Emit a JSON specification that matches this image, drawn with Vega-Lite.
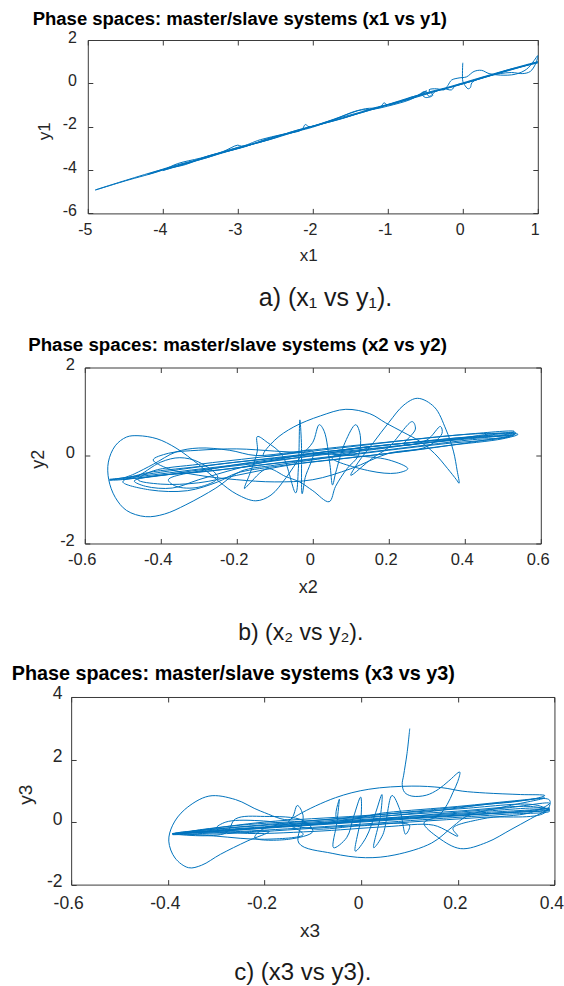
{
 "$schema": "https://vega.github.io/schema/vega-lite/v6.json",
 "padding": {"left": 10.8, "top": 9, "right": 0, "bottom": 0},
 "background": "white",
 "spacing": 153.5,
 "bounds": "flush",
 "center": true,
 "config": {
  "view": {"stroke": null},
  "axis": {"grid": false, "domainColor": "#3a3a3a", "tickColor": "#3a3a3a", "labelColor": "#262626", "titleColor": "#262626", "labelFont": "Liberation Sans", "titleFont": "Liberation Sans", "titleFontWeight": "normal", "labelFlush": false, "labelOverlap": false, "domainWidth": 1, "tickWidth": 1},
  "title": {"font": "Liberation Sans"}
 },
 "datasets": {
  "p1": [
   {"i":1,"x":0.0,"y":0.95},{"i":2,"x":0.0,"y":0.1},{"i":3,"x":0.02,"y":-0.05},{"i":4,"x":0.07,"y":-0.25},{"i":5,"x":0.1,"y":-0.2},{"i":6,"x":0.12,"y":0.02},{"i":7,"x":0.2,"y":0.2},{"i":8,"x":0.35,"y":0.35},{"i":9,"x":0.5,"y":0.45},{"i":10,"x":0.65,"y":0.5},
   {"i":11,"x":0.8,"y":0.45},{"i":12,"x":0.9,"y":0.55},{"i":13,"x":0.97,"y":0.9},{"i":14,"x":1.0,"y":1.28},{"i":15,"x":0.95,"y":1.05},{"i":16,"x":0.85,"y":0.65},{"i":17,"x":0.7,"y":0.42},{"i":18,"x":0.5,"y":0.38},{"i":19,"x":0.35,"y":0.45},{"i":20,"x":0.25,"y":0.6},
   {"i":21,"x":0.15,"y":0.55},{"i":22,"x":0.05,"y":0.3},{"i":23,"x":-0.05,"y":0.25},{"i":24,"x":-0.15,"y":0.15},{"i":25,"x":-0.2,"y":-0.1},{"i":26,"x":-0.25,"y":-0.3},{"i":27,"x":-0.35,"y":-0.25},{"i":28,"x":-0.45,"y":-0.3},{"i":29,"x":-0.4,"y":-0.55},{"i":30,"x":-0.5,"y":-0.65},
   {"i":31,"x":-0.55,"y":-0.45},{"i":32,"x":-0.48,"y":-0.35},{"i":33,"x":-0.6,"y":-0.55},{"i":34,"x":-0.7,"y":-0.65},{"i":35,"x":-0.8,"y":-0.8},{"i":36,"x":-1.0,"y":-1.0},{"i":37,"x":-1.05,"y":-0.9},{"i":38,"x":-1.1,"y":-1.1},{"i":39,"x":-1.3,"y":-1.17},{"i":40,"x":-1.5,"y":-1.38},
   {"i":41,"x":-1.8,"y":-1.75},{"i":42,"x":-2.05,"y":-2.0},{"i":43,"x":-2.1,"y":-1.9},{"i":44,"x":-2.15,"y":-2.15},{"i":45,"x":-2.4,"y":-2.35},{"i":46,"x":-2.7,"y":-2.6},{"i":47,"x":-2.95,"y":-2.9},{"i":48,"x":-3.0,"y":-2.85},{"i":49,"x":-3.2,"y":-3.15},{"i":50,"x":-3.5,"y":-3.45},
   {"i":51,"x":-3.8,"y":-3.7},{"i":52,"x":-4.0,"y":-4.0},{"i":53,"x":-4.5,"y":-4.5},{"i":54,"x":-4.9,"y":-4.92},{"i":55,"x":-4.5,"y":-4.48},{"i":56,"x":-4.0,"y":-3.97},{"i":57,"x":-3.7,"y":-3.75},{"i":58,"x":-3.4,"y":-3.35},{"i":59,"x":-3.1,"y":-3.1},{"i":60,"x":-2.8,"y":-2.8},
   {"i":61,"x":-2.5,"y":-2.45},{"i":62,"x":-2.2,"y":-2.2},{"i":63,"x":-2.0,"y":-2.02},{"i":64,"x":-1.7,"y":-1.65},{"i":65,"x":-1.4,"y":-1.25},{"i":66,"x":-1.2,"y":-1.2},{"i":67,"x":-1.0,"y":-1.05},{"i":68,"x":-0.7,"y":-0.75},{"i":69,"x":-0.5,"y":-0.4},{"i":70,"x":-0.45,"y":-0.6},
   {"i":71,"x":-0.35,"y":-0.35},{"i":72,"x":-0.25,"y":-0.25},{"i":73,"x":-0.15,"y":-0.3},{"i":74,"x":-0.1,"y":-0.1},{"i":75,"x":0.0,"y":0.0},{"i":76,"x":0.3,"y":0.3},{"i":77,"x":0.6,"y":0.6},{"i":78,"x":1.0,"y":0.95},{"i":79,"x":0.6,"y":0.62},{"i":80,"x":0.2,"y":0.18},
   {"i":81,"x":-0.3,"y":-0.3},{"i":82,"x":-0.6,"y":-0.62},{"i":83,"x":-1.0,"y":-1.0},{"i":84,"x":-1.5,"y":-1.5},{"i":85,"x":-2.0,"y":-1.98},{"i":86,"x":-2.5,"y":-2.52},{"i":87,"x":-3.0,"y":-3.0},{"i":88,"x":-3.5,"y":-3.52},{"i":89,"x":-4.0,"y":-4.02},{"i":90,"x":-3.6,"y":-3.6},
   {"i":91,"x":-3.3,"y":-3.28},{"i":92,"x":-2.9,"y":-2.92},{"i":93,"x":-2.6,"y":-2.55},{"i":94,"x":-2.3,"y":-2.3},{"i":95,"x":-2.1,"y":-2.08},{"i":96,"x":-1.6,"y":-1.55},{"i":97,"x":-1.1,"y":-1.08},{"i":98,"x":-0.6,"y":-0.55},{"i":99,"x":-0.2,"y":-0.22},{"i":100,"x":0.3,"y":0.28},
   {"i":101,"x":0.9,"y":0.88},{"i":102,"x":1.0,"y":1.0},{"i":103,"x":0.7,"y":0.72},{"i":104,"x":0.3,"y":0.33},{"i":105,"x":-0.2,"y":-0.18},{"i":106,"x":-0.5,"y":-0.45},{"i":107,"x":-0.7,"y":-0.72},{"i":108,"x":-1.2,"y":-1.15},{"i":109,"x":-1.6,"y":-1.62},{"i":110,"x":-2.2,"y":-2.15},
   {"i":111,"x":-2.6,"y":-2.62},{"i":112,"x":-3.0,"y":-2.95},{"i":113,"x":-3.4,"y":-3.42},{"i":114,"x":-3.8,"y":-3.78},{"i":115,"x":-4.2,"y":-4.2},{"i":116,"x":-3.9,"y":-3.85},{"i":117,"x":-3.5,"y":-3.48},{"i":118,"x":-3.1,"y":-3.05},{"i":119,"x":-2.7,"y":-2.72},{"i":120,"x":-2.3,"y":-2.25},
   {"i":121,"x":-1.9,"y":-1.9},{"i":122,"x":-1.3,"y":-1.3},{"i":123,"x":-0.8,"y":-0.78},{"i":124,"x":-0.4,"y":-0.4},{"i":125,"x":0.0,"y":-0.02},{"i":126,"x":0.5,"y":0.5},{"i":127,"x":1.0,"y":0.98}
  ],
  "p2": [
   {"i":1,"x":-0.535,"y":-0.54},{"i":2,"x":-0.45,"y":-0.47},{"i":3,"x":-0.3,"y":-0.31},{"i":4,"x":-0.15,"y":-0.16},{"i":5,"x":0.0,"y":-0.01},{"i":6,"x":0.15,"y":0.14},{"i":7,"x":0.3,"y":0.29},{"i":8,"x":0.42,"y":0.41},{"i":9,"x":0.534,"y":0.52},{"i":10,"x":0.52,"y":0.43},
   {"i":11,"x":0.42,"y":0.36},{"i":12,"x":0.3,"y":0.24},{"i":13,"x":0.15,"y":0.08},{"i":14,"x":0.0,"y":-0.07},{"i":15,"x":-0.15,"y":-0.23},{"i":16,"x":-0.3,"y":-0.38},{"i":17,"x":-0.42,"y":-0.47},{"i":18,"x":-0.47,"y":-0.58},{"i":19,"x":-0.44,"y":-0.7},{"i":20,"x":-0.37,"y":-0.74},
   {"i":21,"x":-0.3,"y":-0.55},{"i":22,"x":-0.2,"y":-0.3},{"i":23,"x":-0.1,"y":-0.1},{"i":24,"x":0.0,"y":0.05},{"i":25,"x":0.1,"y":0.15},{"i":26,"x":0.15,"y":0.2},{"i":27,"x":0.1,"y":0.05},{"i":28,"x":0.0,"y":-0.1},{"i":29,"x":-0.1,"y":-0.22},{"i":30,"x":-0.19,"y":-0.36},
   {"i":31,"x":-0.255,"y":-0.74},{"i":32,"x":-0.334,"y":-1.12},{"i":33,"x":-0.39,"y":-1.33},{"i":34,"x":-0.44,"y":-1.39},{"i":35,"x":-0.49,"y":-1.25},{"i":36,"x":-0.52,"y":-0.95},{"i":37,"x":-0.537,"y":-0.55},{"i":38,"x":-0.538,"y":-0.15},{"i":39,"x":-0.52,"y":0.22},{"i":40,"x":-0.49,"y":0.42},
   {"i":41,"x":-0.46,"y":0.45},{"i":42,"x":-0.41,"y":0.38},{"i":43,"x":-0.36,"y":0.17},{"i":44,"x":-0.3,"y":-0.21},{"i":45,"x":-0.247,"y":-0.59},{"i":46,"x":-0.2,"y":-0.88},{"i":47,"x":-0.15,"y":-1.03},{"i":48,"x":-0.11,"y":-0.9},{"i":49,"x":-0.07,"y":-0.5},{"i":50,"x":-0.03,"y":0.0},
   {"i":51,"x":0.0,"y":0.3},{"i":52,"x":0.017,"y":0.7},{"i":53,"x":0.03,"y":0.55},{"i":54,"x":0.045,"y":-0.2},{"i":55,"x":0.052,"y":-0.67},{"i":56,"x":0.06,"y":-0.4},{"i":57,"x":0.085,"y":0.3},{"i":58,"x":0.113,"y":0.7},{"i":59,"x":0.125,"y":0.45},{"i":60,"x":0.12,"y":0.0},
   {"i":61,"x":0.09,"y":-0.3},{"i":62,"x":0.06,"y":-0.7},{"i":63,"x":0.043,"y":-1.05},{"i":64,"x":0.0,"y":-0.8},{"i":65,"x":-0.035,"y":-0.6},{"i":66,"x":-0.071,"y":-0.48},{"i":67,"x":-0.12,"y":-0.3},{"i":68,"x":-0.17,"y":-0.67},{"i":69,"x":-0.18,"y":-0.75},{"i":70,"x":-0.165,"y":-0.4},
   {"i":71,"x":-0.146,"y":0.1},{"i":72,"x":-0.146,"y":0.43},{"i":73,"x":-0.12,"y":0.3},{"i":74,"x":-0.08,"y":0.0},{"i":75,"x":-0.045,"y":-0.85},{"i":76,"x":-0.038,"y":-0.3},{"i":77,"x":-0.034,"y":0.81},{"i":78,"x":-0.03,"y":0.3},{"i":79,"x":-0.028,"y":-0.87},{"i":80,"x":-0.02,"y":-0.5},
   {"i":81,"x":0.0,"y":0.1},{"i":82,"x":-0.06,"y":0.05},{"i":83,"x":-0.13,"y":0.0},{"i":84,"x":-0.1,"y":0.35},{"i":85,"x":-0.05,"y":0.65},{"i":86,"x":0.02,"y":0.9},{"i":87,"x":0.087,"y":1.05},{"i":88,"x":0.15,"y":0.95},{"i":89,"x":0.192,"y":0.74},{"i":90,"x":0.24,"y":0.52},
   {"i":91,"x":0.28,"y":0.33},{"i":92,"x":0.32,"y":0.05},{"i":93,"x":0.355,"y":-0.3},{"i":94,"x":0.378,"y":-0.55},{"i":95,"x":0.385,"y":-0.63},{"i":96,"x":0.38,"y":-0.35},{"i":97,"x":0.37,"y":0.1},{"i":98,"x":0.35,"y":0.6},{"i":99,"x":0.32,"y":1.1},{"i":100,"x":0.276,"y":1.3},
   {"i":101,"x":0.24,"y":1.15},{"i":102,"x":0.2,"y":0.75},{"i":103,"x":0.16,"y":0.3},{"i":104,"x":0.12,"y":-0.15},{"i":105,"x":0.1,"y":-0.45},{"i":106,"x":0.157,"y":-0.06},{"i":107,"x":0.2,"y":0.19},{"i":108,"x":0.262,"y":0.77},{"i":109,"x":0.27,"y":0.6},{"i":110,"x":0.24,"y":0.25},
   {"i":111,"x":0.3,"y":0.35},{"i":112,"x":0.336,"y":0.66},{"i":113,"x":0.34,"y":0.5},{"i":114,"x":0.3,"y":0.2},{"i":115,"x":0.2,"y":0.05},{"i":116,"x":0.1,"y":-0.3},{"i":117,"x":0.0,"y":-0.55},{"i":118,"x":-0.1,"y":-0.6},{"i":119,"x":-0.2,"y":-0.55},{"i":120,"x":-0.3,"y":-0.45},
   {"i":121,"x":-0.38,"y":-0.3},{"i":122,"x":-0.42,"y":-0.1},{"i":123,"x":-0.38,"y":0.05},{"i":124,"x":-0.3,"y":0.12},{"i":125,"x":-0.2,"y":0.15},{"i":126,"x":-0.1,"y":0.1},{"i":127,"x":0.0,"y":0.05},{"i":128,"x":0.1,"y":0.0},{"i":129,"x":0.2,"y":-0.1},{"i":130,"x":0.25,"y":-0.3},
   {"i":131,"x":0.22,"y":-0.4},{"i":132,"x":0.15,"y":-0.35},{"i":133,"x":0.05,"y":-0.05},{"i":134,"x":0.2,"y":0.18},{"i":135,"x":0.35,"y":0.34},{"i":136,"x":0.48,"y":0.5},{"i":137,"x":0.534,"y":0.5},{"i":138,"x":0.5,"y":0.4},{"i":139,"x":0.35,"y":0.27},{"i":140,"x":0.2,"y":0.12},
   {"i":141,"x":0.05,"y":-0.04},{"i":142,"x":-0.1,"y":-0.18},{"i":143,"x":-0.25,"y":-0.33},{"i":144,"x":-0.4,"y":-0.45},{"i":145,"x":-0.5,"y":-0.53},{"i":146,"x":-0.47,"y":-0.42},{"i":147,"x":-0.42,"y":-0.2},{"i":148,"x":-0.36,"y":0.08},{"i":149,"x":-0.3,"y":0.17},{"i":150,"x":-0.22,"y":0.12},
   {"i":151,"x":-0.15,"y":0.0},{"i":152,"x":-0.05,"y":0.08},{"i":153,"x":0.1,"y":0.22},{"i":154,"x":0.25,"y":0.35},{"i":155,"x":0.4,"y":0.48},{"i":156,"x":0.53,"y":0.55},{"i":157,"x":0.5,"y":0.46},{"i":158,"x":0.38,"y":0.4},{"i":159,"x":0.22,"y":0.26},{"i":160,"x":0.05,"y":0.1},
   {"i":161,"x":-0.1,"y":-0.08},{"i":162,"x":-0.25,"y":-0.28},{"i":163,"x":-0.38,"y":-0.55},{"i":164,"x":-0.36,"y":-0.7},{"i":165,"x":-0.3,"y":-0.72},{"i":166,"x":-0.25,"y":-0.5},{"i":167,"x":-0.3,"y":-0.15},{"i":168,"x":-0.35,"y":-0.05},{"i":169,"x":-0.4,"y":-0.15},{"i":170,"x":-0.47,"y":-0.5},
   {"i":171,"x":-0.535,"y":-0.56},{"i":172,"x":-0.4,"y":-0.38},{"i":173,"x":-0.2,"y":-0.15},{"i":174,"x":0.0,"y":0.02},{"i":175,"x":0.2,"y":0.2},{"i":176,"x":0.4,"y":0.37},{"i":177,"x":0.53,"y":0.47},{"i":178,"x":0.45,"y":0.45},{"i":179,"x":0.3,"y":0.33},{"i":180,"x":0.1,"y":0.15},
   {"i":181,"x":-0.1,"y":-0.05},{"i":182,"x":-0.3,"y":-0.25},{"i":183,"x":-0.45,"y":-0.42},{"i":184,"x":-0.5,"y":-0.6},{"i":185,"x":-0.43,"y":-0.78},{"i":186,"x":-0.33,"y":-0.8},{"i":187,"x":-0.25,"y":-0.6},{"i":188,"x":-0.2,"y":-0.4},{"i":189,"x":-0.1,"y":-0.25},{"i":190,"x":0.05,"y":-0.1},
   {"i":191,"x":0.2,"y":0.05},{"i":192,"x":0.35,"y":0.22},{"i":193,"x":0.5,"y":0.38},{"i":194,"x":0.54,"y":0.48},{"i":195,"x":0.45,"y":0.5},{"i":196,"x":0.3,"y":0.4},{"i":197,"x":0.15,"y":0.25},{"i":198,"x":0.0,"y":0.1},{"i":199,"x":-0.15,"y":-0.05},{"i":200,"x":-0.3,"y":-0.2},
   {"i":201,"x":-0.42,"y":-0.35},{"i":202,"x":-0.46,"y":-0.55},{"i":203,"x":-0.4,"y":-0.65},{"i":204,"x":-0.3,"y":-0.62},{"i":205,"x":-0.2,"y":-0.45},{"i":206,"x":-0.05,"y":-0.2},{"i":207,"x":0.1,"y":-0.05},{"i":208,"x":0.25,"y":0.1},{"i":209,"x":0.4,"y":0.28},{"i":210,"x":0.52,"y":0.45},
   {"i":211,"x":0.45,"y":0.42},{"i":212,"x":0.3,"y":0.32},{"i":213,"x":0.15,"y":0.2},{"i":214,"x":0.0,"y":0.0},{"i":215,"x":-0.15,"y":-0.18},{"i":216,"x":-0.3,"y":-0.33},{"i":217,"x":-0.44,"y":-0.5},{"i":218,"x":-0.535,"y":-0.55}
  ],
  "p3": [
   {"i":1,"x":0.1006,"y":2.99},{"i":2,"x":0.095,"y":2.2},{"i":3,"x":0.088,"y":1.5},{"i":4,"x":0.085,"y":1.2},{"i":5,"x":0.09,"y":0.95},{"i":6,"x":0.105,"y":0.83},{"i":7,"x":0.135,"y":0.86},{"i":8,"x":0.16,"y":1.05},{"i":9,"x":0.181,"y":1.31},{"i":10,"x":0.204,"y":1.6},
   {"i":11,"x":0.2,"y":1.3},{"i":12,"x":0.19,"y":0.95},{"i":13,"x":0.178,"y":0.56},{"i":14,"x":0.16,"y":0.2},{"i":15,"x":0.13,"y":-0.03},{"i":16,"x":0.16,"y":-0.5},{"i":17,"x":0.206,"y":-0.85},{"i":18,"x":0.26,"y":-0.65},{"i":19,"x":0.31,"y":-0.24},{"i":20,"x":0.35,"y":0.1},
   {"i":21,"x":0.39,"y":0.45},{"i":22,"x":0.37,"y":0.4},{"i":23,"x":0.25,"y":0.25},{"i":24,"x":0.1,"y":0.1},{"i":25,"x":-0.05,"y":-0.05},{"i":26,"x":-0.2,"y":-0.2},{"i":27,"x":-0.33,"y":-0.33},{"i":28,"x":-0.391,"y":-0.37},{"i":29,"x":-0.3,"y":-0.3},{"i":30,"x":-0.15,"y":-0.13},
   {"i":31,"x":0.0,"y":0.02},{"i":32,"x":0.15,"y":0.17},{"i":33,"x":0.3,"y":0.3},{"i":34,"x":0.39,"y":0.38},{"i":35,"x":0.35,"y":0.5},{"i":36,"x":0.2,"y":0.35},{"i":37,"x":0.05,"y":0.2},{"i":38,"x":-0.1,"y":0.05},{"i":39,"x":-0.25,"y":-0.1},{"i":40,"x":-0.35,"y":-0.3},
   {"i":41,"x":-0.25,"y":-0.32},{"i":42,"x":-0.19,"y":-0.3},{"i":43,"x":-0.236,"y":-0.61},{"i":44,"x":-0.291,"y":-1.03},{"i":45,"x":-0.33,"y":-1.38},{"i":46,"x":-0.357,"y":-1.46},{"i":47,"x":-0.385,"y":-1.15},{"i":48,"x":-0.398,"y":-0.61},{"i":49,"x":-0.39,"y":-0.1},{"i":50,"x":-0.365,"y":0.4},
   {"i":51,"x":-0.315,"y":0.83},{"i":52,"x":-0.26,"y":0.72},{"i":53,"x":-0.208,"y":0.35},{"i":54,"x":-0.146,"y":0.09},{"i":55,"x":-0.132,"y":0.53},{"i":56,"x":-0.12,"y":0.2},{"i":57,"x":-0.129,"y":-0.67},{"i":58,"x":-0.06,"y":-1.0},{"i":59,"x":0.009,"y":-1.14},{"i":60,"x":0.07,"y":-1.05},
   {"i":61,"x":0.146,"y":-0.67},{"i":62,"x":0.19,"y":-0.14},{"i":63,"x":0.22,"y":0.2},{"i":64,"x":0.3,"y":0.5},{"i":65,"x":0.38,"y":0.77},{"i":66,"x":0.33,"y":0.7},{"i":67,"x":0.2,"y":0.5},{"i":68,"x":0.05,"y":0.3},{"i":69,"x":-0.05,"y":0.1},{"i":70,"x":-0.045,"y":0.73},
   {"i":71,"x":-0.05,"y":0.0},{"i":72,"x":-0.057,"y":-0.82},{"i":73,"x":-0.03,"y":-0.5},{"i":74,"x":-0.015,"y":0.2},{"i":75,"x":-0.001,"y":0.8},{"i":76,"x":0.0,"y":0.2},{"i":77,"x":-0.012,"y":-0.93},{"i":78,"x":0.01,"y":-0.5},{"i":79,"x":0.03,"y":0.3},{"i":80,"x":0.043,"y":0.88},
   {"i":81,"x":0.04,"y":0.2},{"i":82,"x":0.026,"y":-0.82},{"i":83,"x":0.045,"y":-0.4},{"i":84,"x":0.064,"y":0.85},{"i":85,"x":0.08,"y":0.4},{"i":86,"x":0.092,"y":-0.39},{"i":87,"x":0.1,"y":-0.1},{"i":88,"x":0.0,"y":-0.12},{"i":89,"x":-0.1,"y":-0.22},{"i":90,"x":-0.15,"y":0.0},
   {"i":91,"x":-0.129,"y":0.24},{"i":92,"x":-0.053,"y":0.78},{"i":93,"x":0.016,"y":1.05},{"i":94,"x":0.105,"y":1.15},{"i":95,"x":0.167,"y":1.1},{"i":96,"x":0.209,"y":0.99},{"i":97,"x":0.257,"y":0.93},{"i":98,"x":0.33,"y":0.88},{"i":99,"x":0.38,"y":0.85},{"i":100,"x":0.36,"y":0.75},
   {"i":101,"x":0.25,"y":0.55},{"i":102,"x":0.15,"y":0.35},{"i":103,"x":0.0,"y":0.12},{"i":104,"x":-0.15,"y":-0.05},{"i":105,"x":-0.28,"y":-0.2},{"i":106,"x":-0.37,"y":-0.35},{"i":107,"x":-0.3,"y":-0.45},{"i":108,"x":-0.2,"y":-0.55},{"i":109,"x":-0.12,"y":-0.4},{"i":110,"x":-0.15,"y":-0.1},
   {"i":111,"x":-0.22,"y":0.05},{"i":112,"x":-0.28,"y":0.0},{"i":113,"x":-0.3,"y":-0.2},{"i":114,"x":-0.25,"y":-0.35},{"i":115,"x":-0.1,"y":-0.3},{"i":116,"x":0.05,"y":-0.15},{"i":117,"x":0.15,"y":-0.1},{"i":118,"x":0.2,"y":-0.45},{"i":119,"x":0.19,"y":-0.2},{"i":120,"x":0.25,"y":0.1},
   {"i":121,"x":0.35,"y":0.3},{"i":122,"x":0.39,"y":0.6},{"i":123,"x":0.3,"y":0.45},{"i":124,"x":0.15,"y":0.25},{"i":125,"x":0.0,"y":0.05},{"i":126,"x":-0.15,"y":-0.12},{"i":127,"x":-0.3,"y":-0.28},{"i":128,"x":-0.39,"y":-0.38},{"i":129,"x":-0.25,"y":-0.22},{"i":130,"x":-0.1,"y":-0.08},
   {"i":131,"x":0.05,"y":0.08},{"i":132,"x":0.2,"y":0.22},{"i":133,"x":0.39,"y":0.4},{"i":134,"x":0.37,"y":0.45},{"i":135,"x":0.2,"y":0.28},{"i":136,"x":0.0,"y":0.08},{"i":137,"x":-0.2,"y":-0.15},{"i":138,"x":-0.35,"y":-0.32},{"i":139,"x":-0.39,"y":-0.4},{"i":140,"x":-0.25,"y":-0.3},
   {"i":141,"x":-0.05,"y":-0.12},{"i":142,"x":0.15,"y":0.1},{"i":143,"x":0.3,"y":0.25},{"i":144,"x":0.39,"y":0.35},{"i":145,"x":0.36,"y":0.55},{"i":146,"x":0.2,"y":0.42},{"i":147,"x":0.0,"y":0.2},{"i":148,"x":-0.2,"y":0.0},{"i":149,"x":-0.33,"y":-0.25},{"i":150,"x":-0.385,"y":-0.36},
   {"i":151,"x":-0.3,"y":-0.38},{"i":152,"x":-0.1,"y":-0.2},{"i":153,"x":0.1,"y":0.0},{"i":154,"x":0.25,"y":0.15},{"i":155,"x":0.38,"y":0.3},{"i":156,"x":0.39,"y":0.7},{"i":157,"x":0.3,"y":0.62},{"i":158,"x":0.15,"y":0.4},{"i":159,"x":0.0,"y":0.18},{"i":160,"x":-0.15,"y":-0.02},
   {"i":161,"x":-0.3,"y":-0.22},{"i":162,"x":-0.39,"y":-0.37},{"i":163,"x":-0.28,"y":-0.35},{"i":164,"x":-0.26,"y":0.1},{"i":165,"x":-0.2,"y":0.18},{"i":166,"x":-0.12,"y":0.05},{"i":167,"x":-0.1,"y":-0.3},{"i":168,"x":-0.15,"y":-0.55},{"i":169,"x":-0.22,"y":-0.5},{"i":170,"x":-0.2,"y":-0.2},
   {"i":171,"x":-0.05,"y":0.0},{"i":172,"x":0.1,"y":0.15},{"i":173,"x":0.25,"y":0.3},{"i":174,"x":0.39,"y":0.42}
  ]
 },
 "vconcat": [
  {
   "width": 450, "height": 173.4,
   "data": {"name": "p1"},
   "title": {"text": "a) (x₁ vs y₁).", "orient": "bottom", "anchor": "middle", "frame": "group", "dx": 12.7, "offset": 22, "fontSize": 25, "fontWeight": "normal", "color": "#1a1a1a", "font": "Liberation Sans"},
   "layer": [
    {"mark": {"type": "line", "color": "#0072BD", "strokeWidth": 1, "interpolate": "catmull-rom"},
     "encoding": {
      "x": {"field": "x", "type": "quantitative", "scale": {"domain": [-5, 1], "nice": false, "zero": false},
            "axis": {"orient": "bottom", "values": [-5,-4,-3,-2,-1,0,1], "format": "~g", "title": "x1", "tickSize": -5, "labelPadding": 12.8, "labelFontSize": 16, "labelOffset": -3, "titleFontSize": 17, "titleX": 220.5, "titleY": 42.3, "titleBaseline": "middle", "titleAlign": "center", "labelExpr": "replace(datum.label, '\u2212', '-')"}},
      "y": {"field": "y", "type": "quantitative", "scale": {"domain": [-6, 2], "nice": false, "zero": false},
            "axis": {"orient": "left", "values": [-6,-4,-2,0,2], "format": "~g", "title": "y1", "tickSize": -5, "labelPadding": 16.3, "labelFontSize": 16, "labelOffset": -3, "titleFontSize": 17, "titleX": -43.3, "titleY": 90.7, "titleAngle": -90, "titleBaseline": "middle", "titleAlign": "center", "labelExpr": "replace(datum.label, '\u2212', '-')"}},
      "order": {"field": "i"}
     }},
    {"mark": {"type": "point", "opacity": 0},
     "encoding": {
      "x": {"field": "x", "type": "quantitative", "axis": {"orient": "top", "values": [-5,-4,-3,-2,-1,0,1], "labels": false, "tickSize": -5, "title": "Phase spaces: master/slave systems (x1 vs y1)", "titleFontSize": 18.5, "titleFontWeight": "bold", "titleColor": "#000000", "titleX": -55.6, "titleY": -15.3, "titleAlign": "left", "titleBaseline": "alphabetic", "titleAngle": 0}},
      "y": {"field": "y", "type": "quantitative", "axis": {"orient": "right", "values": [-6,-4,-2,0,2], "labels": false, "tickSize": -5, "title": null}}
     }}
   ],
   "resolve": {"axis": {"x": "independent", "y": "independent"}}
  },
  {
   "width": 456, "height": 176,
   "data": {"name": "p2"},
   "title": {"text": "b) (x₂ vs y₂).", "orient": "bottom", "anchor": "middle", "frame": "group", "dx": -12, "offset": 25, "fontSize": 23, "fontWeight": "normal", "color": "#1a1a1a", "font": "Liberation Sans"},
   "layer": [
    {"mark": {"type": "line", "color": "#0072BD", "strokeWidth": 1, "interpolate": "catmull-rom"},
     "encoding": {
      "x": {"field": "x", "type": "quantitative", "scale": {"domain": [-0.6, 0.6], "nice": false, "zero": false},
            "axis": {"orient": "bottom", "values": [-0.6,-0.4,-0.2,0,0.2,0.4,0.6], "format": "~g", "title": "x2", "tickSize": -5, "labelPadding": 13.4, "labelFontSize": 16.5, "labelOffset": -3, "titleFontSize": 18, "titleX": 223, "titleY": 44.3, "titleBaseline": "middle", "titleAlign": "center", "labelExpr": "replace(datum.label, '\u2212', '-')"}},
      "y": {"field": "y", "type": "quantitative", "scale": {"domain": [-2, 2], "nice": false, "zero": false},
            "axis": {"orient": "left", "values": [-2,0,2], "format": "~g", "title": "y2", "tickSize": -5, "labelPadding": 15.5, "labelFontSize": 16.5, "labelOffset": -3, "titleFontSize": 18, "titleX": -46.4, "titleY": 91.3, "titleAngle": -90, "titleBaseline": "middle", "titleAlign": "center", "labelExpr": "replace(datum.label, '\u2212', '-')"}},
      "order": {"field": "i"}
     }},
    {"mark": {"type": "point", "opacity": 0},
     "encoding": {
      "x": {"field": "x", "type": "quantitative", "axis": {"orient": "top", "values": [-0.6,-0.4,-0.2,0,0.2,0.4,0.6], "labels": false, "tickSize": -5, "title": "Phase spaces: master/slave systems (x2 vs y2)", "titleFontSize": 18.7, "titleFontWeight": "bold", "titleColor": "#000000", "titleX": -57.1, "titleY": -16.7, "titleAlign": "left", "titleBaseline": "alphabetic", "titleAngle": 0}},
      "y": {"field": "y", "type": "quantitative", "axis": {"orient": "right", "values": [-2,0,2], "labels": false, "tickSize": -5, "title": null}}
     }}
   ],
   "resolve": {"axis": {"x": "independent", "y": "independent"}}
  },
  {
   "width": 483.3, "height": 187.6,
   "data": {"name": "p3"},
   "title": {"text": "c) (x3 vs y3).", "orient": "bottom", "anchor": "middle", "frame": "group", "dx": -10, "offset": 21, "fontSize": 24, "fontWeight": "normal", "color": "#1a1a1a", "font": "Liberation Sans"},
   "layer": [
    {"mark": {"type": "line", "color": "#0072BD", "strokeWidth": 1, "interpolate": "catmull-rom"},
     "encoding": {
      "x": {"field": "x", "type": "quantitative", "scale": {"domain": [-0.6, 0.4], "nice": false, "zero": false},
            "axis": {"orient": "bottom", "values": [-0.6,-0.4,-0.2,0,0.2,0.4], "format": "~g", "title": "x3", "tickSize": -5, "labelPadding": 15.4, "labelFontSize": 17.5, "labelOffset": -3, "titleFontSize": 19, "titleX": 238.3, "titleY": 45.7, "titleBaseline": "middle", "titleAlign": "center", "labelExpr": "replace(datum.label, '\u2212', '-')"}},
      "y": {"field": "y", "type": "quantitative", "scale": {"domain": [-2, 4], "nice": false, "zero": false},
            "axis": {"orient": "left", "values": [-2,0,2,4], "format": "~g", "title": "y3", "tickSize": -5, "labelPadding": 14.2, "labelFontSize": 17.5, "labelOffset": -3, "titleFontSize": 19, "titleX": -45.7, "titleY": 97.3, "titleAngle": -90, "titleBaseline": "middle", "titleAlign": "center", "labelExpr": "replace(datum.label, '\u2212', '-')"}},
      "order": {"field": "i"}
     }},
    {"mark": {"type": "point", "opacity": 0},
     "encoding": {
      "x": {"field": "x", "type": "quantitative", "axis": {"orient": "top", "values": [-0.6,-0.4,-0.2,0,0.2,0.4], "labels": false, "tickSize": -5, "title": "Phase spaces: master/slave systems (x3 vs y3)", "titleFontSize": 19.8, "titleFontWeight": "bold", "titleColor": "#000000", "titleX": -59.9, "titleY": -17.7, "titleAlign": "left", "titleBaseline": "alphabetic", "titleAngle": 0}},
      "y": {"field": "y", "type": "quantitative", "axis": {"orient": "right", "values": [-2,0,2,4], "labels": false, "tickSize": -5, "title": null}}
     }}
   ],
   "resolve": {"axis": {"x": "independent", "y": "independent"}}
  }
 ]
}
